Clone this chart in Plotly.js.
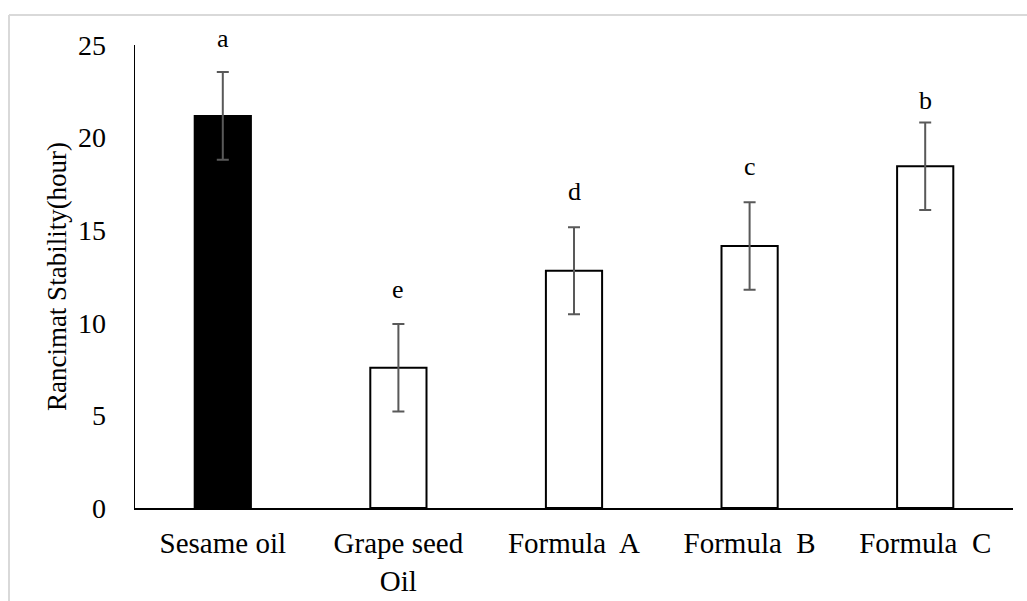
<!DOCTYPE html>
<html>
<head>
<meta charset="utf-8">
<script src="https://cdn.plot.ly/plotly-3.0.1.min.js"></script>
<style>
  html, body { margin: 0; padding: 0; background: #fff; }
  #chart { width: 1027px; height: 601px; }
</style>
</head>
<body>
<div id="chart"></div>
<script>
const categories = ["Sesame oil", "Grape seed<br>Oil", "Formula  A", "Formula  B", "Formula  C"];
const stability = [21.17, 7.57, 12.81, 14.15, 18.45];
const errors = [2.37, 2.36, 2.35, 2.36, 2.36];
const letters = ["a", "e", "d", "c", "b"];
const letterY = [24.91, 11.32, 16.63, 17.98, 21.53];
const barFills = ["#000000", "#ffffff", "#ffffff", "#ffffff", "#ffffff"];
const yTicks = [0, 5, 10, 15, 20, 25];

const serif = "Liberation Serif";

const trace = {
  type: "bar",
  x: categories,
  y: stability,
  marker: { color: barFills, line: { color: "#000000", width: 2 } },
  error_y: { type: "data", array: errors, visible: true, color: "#595959", thickness: 2, width: 6 },
  hoverinfo: "skip"
};

const annotations = categories.map((c, i) => ({
  x: c, y: letterY[i], xref: "x", yref: "y",
  text: letters[i], showarrow: false,
  yanchor: "bottom", yshift: -8,
  font: { family: serif, size: 26, color: "#000" }
}));

const layout = {
  width: 1027, height: 601,
  margin: { l: 135, r: 14, t: 45, b: 93 },
  paper_bgcolor: "#fff", plot_bgcolor: "#fff",
  showlegend: false,
  bargap: 0.68,
  xaxis: {
    type: "category",
    showline: true, linecolor: "#000", linewidth: 1.5,
    showgrid: false, zeroline: false, ticks: "",
    tickfont: { family: serif, size: 29, color: "#000" },
    ticklabelstandoff: 9
  },
  yaxis: {
    range: [0, 25], tickvals: yTicks, ticktext: yTicks.map(String),
    showline: true, linecolor: "#000", linewidth: 1.5,
    showgrid: false, zeroline: false, ticks: "",
    tickfont: { family: serif, size: 28, color: "#000" },
    ticklabelstandoff: 22,
    title: { text: "Rancimat Stability(hour)", font: { family: serif, size: 27, color: "#000" }, standoff: 3 }
  },
  annotations: annotations,
  shapes: [
    { type: "line", xref: "paper", yref: "paper", x0: -0.1435, x1: 1.05, y0: 1.0648, y1: 1.0648, line: { color: "#d9d9d9", width: 2 } },
    { type: "line", xref: "paper", yref: "paper", x0: -0.1435, x1: -0.1435, y0: 1.0648, y1: -0.25, line: { color: "#d9d9d9", width: 2 } }
  ]
};

Plotly.newPlot("chart", [trace], layout, { staticPlot: true, displayModeBar: false });
</script>
</body>
</html>
